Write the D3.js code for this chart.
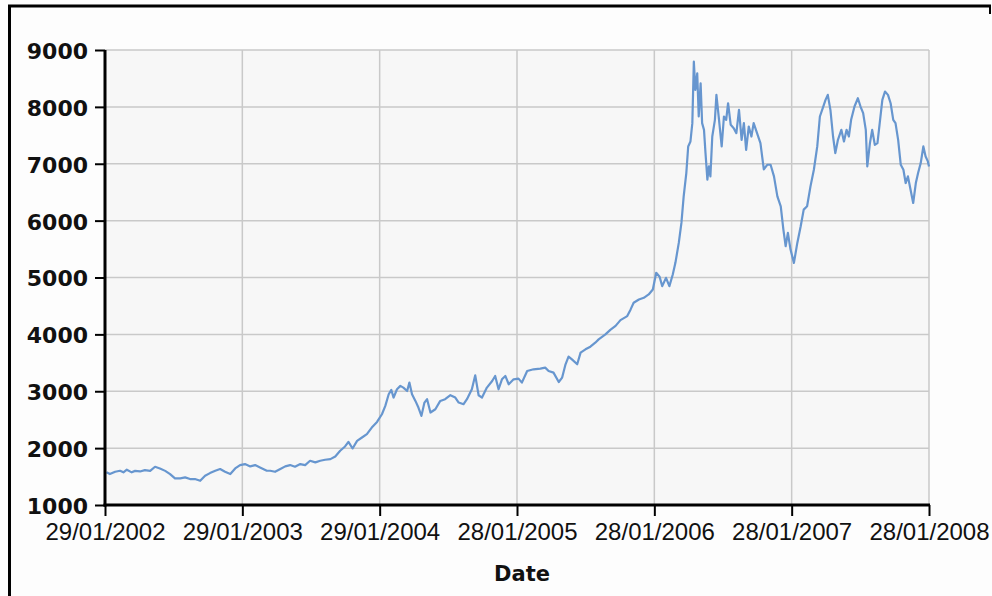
<!DOCTYPE html>
<html>
<head>
<meta charset="utf-8">
<script src="https://cdn.jsdelivr.net/npm/d3@7"></script>
<style>
  html, body { margin: 0; padding: 0; background: #ffffff; }
  svg { display: block; }
</style>
</head>
<body>
<svg id="chart" width="992" height="596"></svg>
<script>
// ---- data ----
const dates = [
  "2002-02-02","2002-02-11","2002-02-25","2002-03-10","2002-03-19","2002-03-28","2002-04-10","2002-04-19",
  "2002-05-02","2002-05-15","2002-05-29","2002-06-11","2002-06-24","2002-07-08","2002-07-21","2002-08-03",
  "2002-08-17","2002-08-30","2002-09-12","2002-09-25","2002-10-09","2002-10-22","2002-11-04","2002-11-18",
  "2002-12-01","2002-12-14","2002-12-28","2003-01-10","2003-01-23","2003-02-05","2003-02-19","2003-03-04",
  "2003-03-17","2003-04-04","2003-04-13","2003-04-26","2003-05-10","2003-05-23","2003-06-05","2003-06-18",
  "2003-07-02","2003-07-15","2003-07-28","2003-08-11","2003-08-24","2003-09-06","2003-09-20","2003-10-03",
  "2003-10-16","2003-10-29","2003-11-07","2003-11-18","2003-11-30","2003-12-13","2003-12-26","2004-01-08",
  "2004-01-22","2004-02-04","2004-02-13","2004-02-22","2004-02-29","2004-03-06","2004-03-15","2004-03-24",
  "2004-04-01","2004-04-11","2004-04-17","2004-04-24","2004-05-03","2004-05-11","2004-05-19","2004-05-27",
  "2004-06-03","2004-06-12","2004-06-25","2004-07-08","2004-07-21","2004-08-04","2004-08-17","2004-08-26",
  "2004-09-08","2004-09-17","2004-09-30","2004-10-09","2004-10-18","2004-10-27","2004-11-09","2004-11-23",
  "2004-12-01","2004-12-10","2004-12-19","2004-12-28","2005-01-06","2005-01-19","2005-02-01","2005-02-10",
  "2005-02-24","2005-03-13","2005-03-31","2005-04-13","2005-04-22","2005-05-05","2005-05-19","2005-05-28",
  "2005-06-06","2005-06-14","2005-06-23","2005-07-07","2005-07-16","2005-07-29","2005-08-11","2005-08-24",
  "2005-09-02","2005-09-20","2005-10-03","2005-10-17","2005-10-30","2005-11-17","2005-11-26","2005-12-04",
  "2005-12-18","2005-12-31","2006-01-13","2006-01-24","2006-02-02","2006-02-11","2006-02-18","2006-02-28",
  "2006-03-09","2006-03-18","2006-03-25","2006-04-03","2006-04-10","2006-04-16","2006-04-23","2006-04-28",
  "2006-05-04","2006-05-09","2006-05-13","2006-05-17","2006-05-22","2006-05-26","2006-05-31","2006-06-04",
  "2006-06-09","2006-06-13","2006-06-18","2006-06-22","2006-06-26","2006-07-01","2006-07-08","2006-07-12",
  "2006-07-18","2006-07-26","2006-08-01","2006-08-07","2006-08-12","2006-08-19","2006-08-27","2006-09-03",
  "2006-09-10","2006-09-17","2006-09-23","2006-09-29","2006-10-06","2006-10-13","2006-10-19","2006-10-28",
  "2006-11-06","2006-11-15","2006-11-24","2006-12-03","2006-12-12","2006-12-21","2006-12-30","2007-01-06",
  "2007-01-12","2007-01-18","2007-01-25","2007-02-03","2007-02-12","2007-02-21","2007-03-01","2007-03-10",
  "2007-03-19","2007-03-28","2007-04-06","2007-04-13","2007-04-22","2007-04-28","2007-05-04","2007-05-11",
  "2007-05-18","2007-05-24","2007-05-31","2007-06-09","2007-06-16","2007-06-23","2007-06-29","2007-07-05",
  "2007-07-14","2007-07-23","2007-07-30","2007-08-06","2007-08-13","2007-08-17","2007-08-24","2007-08-30",
  "2007-09-06","2007-09-13","2007-09-20","2007-09-26","2007-10-03","2007-10-11","2007-10-18","2007-10-25",
  "2007-10-31","2007-11-07","2007-11-14","2007-11-21","2007-11-27","2007-12-03","2007-12-10","2007-12-17",
  "2007-12-24","2007-12-30","2008-01-06","2008-01-13","2008-01-19","2008-01-25","2008-01-28"
];
const values = [
  1574,1544,1584,1602,1574,1620,1574,1600,
  1590,1614,1600,1672,1643,1600,1544,1468,
  1468,1485,1456,1456,1426,1514,1561,1602,
  1632,1584,1544,1643,1702,1720,1679,1702,
  1661,1602,1602,1584,1632,1679,1702,1673,
  1720,1702,1778,1749,1778,1795,1807,1854,
  1953,2029,2111,1994,2128,2187,2245,2362,
  2461,2596,2742,2947,3023,2889,3035,3094,
  3064,3005,3152,2947,2830,2713,2567,2801,
  2860,2626,2684,2830,2860,2930,2889,2801,
  2772,2860,3035,3280,2930,2889,3064,3181,
  3269,3035,3210,3269,3123,3210,3222,3152,
  3356,3386,3398,3415,3356,3327,3163,3240,
  3474,3609,3561,3474,3679,3737,3784,3854,
  3912,4000,4080,4150,4250,4321,4439,4556,
  4614,4643,4702,4789,5082,5012,4848,4994,
  4848,5053,5258,5608,5959,6427,6836,7304,
  7392,7714,8795,8298,8591,7831,8415,7714,
  7596,7187,6719,6953,6778,7479,7772,8211,
  7831,7304,7831,7772,8064,7684,7626,7538,
  7947,7421,7714,7245,7655,7479,7714,7538,
  7363,6900,6982,6982,6778,6427,6252,5842,
  5550,5784,5491,5257,5608,5900,6193,6252,
  6602,6895,7304,7831,8006,8123,8211,7947,
  7479,7187,7421,7596,7392,7596,7479,7772,
  8006,8152,8006,7889,7596,6953,7363,7596,
  7333,7363,7772,8123,8269,8211,8064,7772,
  7714,7421,6982,6895,6661,6778,6544,6310,
  6661,6836,7012,7304,7128,7041,6950
];
const xTickDates = ["2002-01-29","2003-01-29","2004-01-29","2005-01-28","2006-01-28","2007-01-28","2008-01-28"];
const yTickValues = [1000,2000,3000,4000,5000,6000,7000,8000,9000];
const xDomain = ["2002-01-29","2008-01-28"];
const yDomain = [1000, 9000];
const xTitle = "Date";

// ---- drawing ----
const parse = d3.utcParse("%Y-%m-%d");
const fmt = d3.utcFormat("%d/%m/%Y");
const data = dates.map((d, i) => ({ date: parse(d), value: values[i] }));

const svg = d3.select("#chart");
const L = 105, R = 929, T = 50, B = 505;

const x = d3.scaleUtc().domain(xDomain.map(parse)).range([L, R]);
const y = d3.scaleLinear().domain(yDomain).range([B, T]);

// outer frame
svg.append("rect").attr("x", 0).attr("y", 0).attr("width", 992).attr("height", 596).attr("fill", "#fdfdfd");
svg.append("line").attr("x1", 8).attr("x2", 991).attr("y1", 6).attr("y2", 6)
  .attr("stroke", "#000").attr("stroke-width", 3);
svg.append("line").attr("x1", 9.5).attr("x2", 9.5).attr("y1", 5).attr("y2", 596)
  .attr("stroke", "#000").attr("stroke-width", 3);
svg.append("line").attr("x1", 990).attr("x2", 990).attr("y1", 5).attr("y2", 14)
  .attr("stroke", "#000").attr("stroke-width", 2);

// plot background
svg.append("rect").attr("x", L).attr("y", T).attr("width", R - L).attr("height", B - T)
  .attr("fill", "#f7f7f7");

// grid
const grid = svg.append("g").attr("stroke", "#c9c9c9").attr("stroke-width", 1.5);
grid.selectAll("line.h").data(yTickValues).join("line").attr("class", "h")
  .attr("x1", L).attr("x2", R).attr("y1", d => y(d)).attr("y2", d => y(d));
grid.selectAll("line.v").data(xTickDates.map(parse)).join("line").attr("class", "v")
  .attr("x1", d => x(d)).attr("x2", d => x(d)).attr("y1", T).attr("y2", B);

// series line
const line = d3.line().x(d => x(d.date)).y(d => y(d.value));
svg.append("path").datum(data)
  .attr("d", line)
  .attr("fill", "none")
  .attr("stroke", "#6796cf")
  .attr("stroke-width", 2.2)
  .attr("stroke-linejoin", "round");

// y axis
const yAxis = d3.axisLeft(y).tickValues(yTickValues).tickFormat(d3.format("d")).tickSize(10).tickPadding(7);
const gy = svg.append("g").attr("transform", `translate(${L},0)`).call(yAxis);
gy.select(".domain").remove();
gy.selectAll(".tick line").attr("stroke", "#000").attr("stroke-width", 2);
gy.selectAll(".tick text")
  .attr("font-family", "'DejaVu Sans', Verdana, sans-serif")
  .attr("font-weight", "bold")
  .attr("font-size", 22)
  .attr("fill", "#111")
  .attr("dy", "0.38em");
svg.append("line").attr("x1", L).attr("x2", L).attr("y1", T).attr("y2", B + 1.5)
  .attr("stroke", "#000").attr("stroke-width", 3);

// x axis
const xAxis = d3.axisBottom(x).tickValues(xTickDates.map(parse)).tickFormat(fmt).tickSize(11).tickPadding(7);
const gx = svg.append("g").attr("transform", `translate(0,${B})`).call(xAxis);
gx.select(".domain").remove();
gx.selectAll(".tick line").attr("stroke", "#000").attr("stroke-width", 2);
gx.selectAll(".tick text")
  .attr("font-family", "'Liberation Sans', Arial, sans-serif")
  .attr("font-size", 24)
  .attr("fill", "#111");
svg.append("line").attr("x1", L - 1.5).attr("x2", R + 1).attr("y1", B).attr("y2", B)
  .attr("stroke", "#000").attr("stroke-width", 3);

// x title
svg.append("text")
  .attr("x", 522).attr("y", 581)
  .attr("text-anchor", "middle")
  .attr("font-family", "'DejaVu Sans', Verdana, sans-serif")
  .attr("font-weight", "bold")
  .attr("font-size", 21)
  .attr("fill", "#111")
  .text(xTitle);
</script>
</body>
</html>
